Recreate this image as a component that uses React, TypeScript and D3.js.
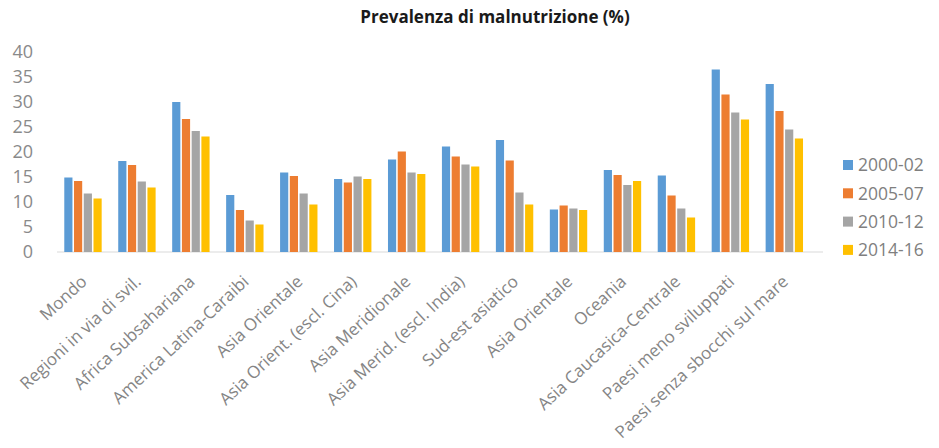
import React from "react";
import * as d3 from "d3";

const categories = [
  "Mondo",
  "Regioni in via di svil.",
  "Africa Subsahariana",
  "America Latina-Caraibi",
  "Asia Orientale",
  "Asia Orient. (escl. Cina)",
  "Asia Meridionale",
  "Asia Merid. (escl. India)",
  "Sud-est asiatico",
  "Asia Orientale",
  "Oceania",
  "Asia Caucasica-Centrale",
  "Paesi meno sviluppati",
  "Paesi senza sbocchi sul mare",
];

const seriesNames = ["2000-02", "2005-07", "2010-12", "2014-16"];

const values2000 = [14.9, 18.2, 30.0, 11.4, 15.9, 14.6, 18.5, 21.1, 22.4, 8.5, 16.4, 15.3, 36.5, 33.6];
const values2005 = [14.2, 17.4, 26.6, 8.4, 15.2, 13.9, 20.1, 19.1, 18.3, 9.3, 15.4, 11.3, 31.5, 28.2];
const values2010 = [11.7, 14.1, 24.2, 6.3, 11.7, 15.1, 15.9, 17.5, 11.9, 8.7, 13.4, 8.7, 27.9, 24.5];
const values2014 = [10.7, 12.9, 23.1, 5.5, 9.5, 14.6, 15.6, 17.1, 9.5, 8.4, 14.2, 6.9, 26.5, 22.7];

const yTicks = [0, 5, 10, 15, 20, 25, 30, 35, 40];

const seriesValues = [values2000, values2005, values2010, values2014];
const colors = ["#5B9BD5", "#ED7D31", "#A5A5A5", "#FFC000"];

const W = 939;
const H = 448;
const FONT = "'Open Sans', sans-serif";

export default function App() {
  const x = d3
    .scaleBand<number>()
    .domain(d3.range(categories.length))
    .range([56, 56 + 14 * 53.95])
    .paddingInner(0.307)
    .paddingOuter(0.1535);
  const xs = d3
    .scaleBand<number>()
    .domain(d3.range(seriesNames.length))
    .range([0, x.bandwidth()])
    .paddingInner(0.16);
  const y = d3.scaleLinear().domain([0, 40]).range([252, 52]);

  return (
    <svg
      width={W}
      height={H}
      style={{ position: "absolute", left: 0, top: 0, background: "#fff" }}
      fontFamily={FONT}
    >
      <text x={495} y={23} textAnchor="middle" fontSize={17} fontWeight="bold" fill="#1a1a1a">
        Prevalenza di malnutrizione (%)
      </text>

      {yTicks.map((t) => (
        <text
          key={t}
          x={33}
          y={y(t)}
          dy="0.36em"
          textAnchor="end"
          fontSize={18}
          fill="#8a8a8a"
        >
          {t}
        </text>
      ))}

      <line x1={57} x2={823} y1={y(0)} y2={y(0)} stroke="#d9d9d9" strokeWidth={1} />

      {categories.map((c, i) =>
        seriesValues.map((vals, s) => (
          <rect
            key={`${i}-${s}`}
            x={(x(i) ?? 0) + (xs(s) ?? 0)}
            y={y(vals[i])}
            width={xs.bandwidth()}
            height={y(0) - y(vals[i])}
            fill={colors[s]}
          />
        ))
      )}

      {categories.map((c, i) => {
        const cx = (x(i) ?? 0) + x.bandwidth() / 2 + 5;
        const cy = 283;
        return (
          <text
            key={`lab-${i}`}
            transform={`translate(${cx},${cy}) rotate(-43)`}
            textAnchor="end"
            fontSize={17}
            fill="#858585"
          >
            {c}
          </text>
        );
      })}

      {seriesNames.map((n, s) => (
        <g key={n} transform={`translate(843,${165 + s * 28.3})`}>
          <rect x={0} y={-5} width={10} height={10} fill={colors[s]} />
          <text x={15} y={0} dy="0.36em" fontSize={17.5} fill="#7f7f7f">
            {n}
          </text>
        </g>
      ))}
    </svg>
  );
}
